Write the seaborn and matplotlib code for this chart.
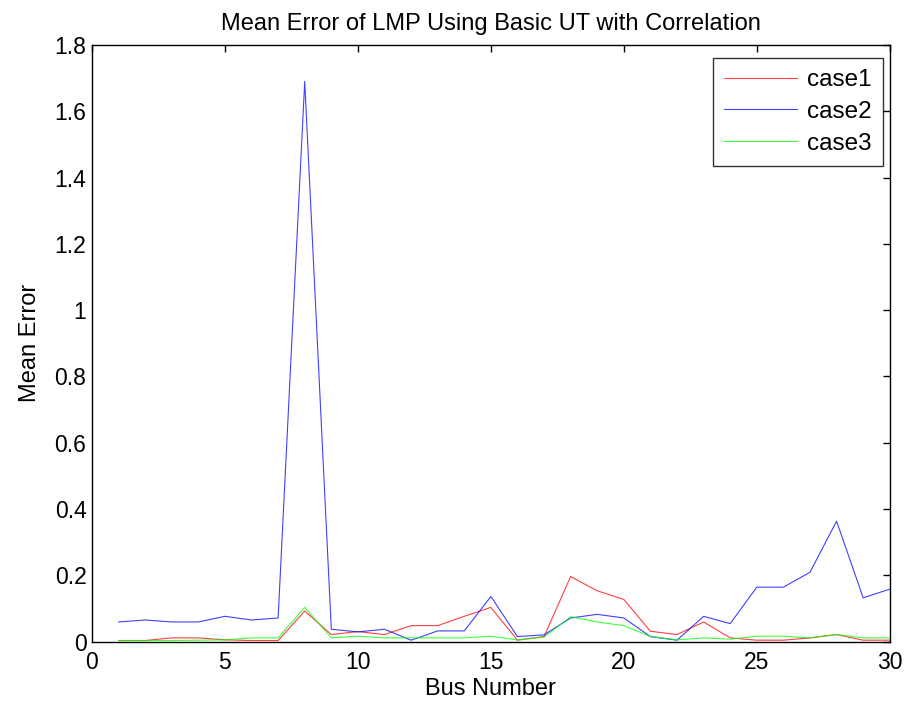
import numpy as np
import pandas as pd
import matplotlib
matplotlib.use("Agg")
import matplotlib.pyplot as plt
import seaborn as sns

# mean error per bus
bus = list(range(1, 31))
case1 = [0.003, 0.003, 0.011, 0.011, 0.005, 0.003, 0.003, 0.092, 0.021, 0.030,
         0.021, 0.048, 0.048, 0.076, 0.103, 0.004, 0.015, 0.196, 0.153, 0.127,
         0.031, 0.021, 0.059, 0.011, 0.004, 0.004, 0.011, 0.021, 0.004, 0.004]
case2 = [0.059, 0.065, 0.059, 0.059, 0.076, 0.065, 0.071, 1.690, 0.037, 0.029,
         0.037, 0.004, 0.032, 0.032, 0.136, 0.015, 0.020, 0.071, 0.082, 0.071,
         0.015, 0.004, 0.076, 0.054, 0.164, 0.164, 0.209, 0.363, 0.132, 0.158]
case3 = [0.003, 0.003, 0.003, 0.004, 0.005, 0.011, 0.011, 0.103, 0.011, 0.016,
         0.011, 0.011, 0.011, 0.011, 0.016, 0.005, 0.013, 0.075, 0.059, 0.048,
         0.015, 0.005, 0.011, 0.007, 0.016, 0.016, 0.011, 0.021, 0.011, 0.011]

df = pd.DataFrame({'Bus': bus, 'case1': case1, 'case2': case2, 'case3': case3})
df_long = df.melt(id_vars='Bus', var_name='Case', value_name='Mean Error')

sns.set_style("white")
plt.rcParams['font.family'] = ['Liberation Sans', 'DejaVu Sans']
plt.rcParams['text.color'] = 'black'
plt.rcParams['axes.labelcolor'] = 'black'
plt.rcParams['xtick.color'] = 'black'
plt.rcParams['ytick.color'] = 'black'

fig = plt.figure(figsize=(9.07, 7.08), dpi=100)
ax = fig.add_axes([0.1014, 0.0939, 0.8796, 0.8425])

sns.lineplot(data=df_long, x='Bus', y='Mean Error', hue='Case',
             palette={'case1': '#ff0000', 'case2': '#0000ff', 'case3': '#00ff00'},
             linewidth=0.8, alpha=0.75, ax=ax)

ax.set_xlim(0, 30)
ax.set_ylim(0, 1.8)
ax.set_xticks(np.arange(0, 31, 5))
ax.set_yticks(np.round(np.arange(0, 1.81, 0.2), 1))
ax.set_yticklabels(['0', '0.2', '0.4', '0.6', '0.8', '1', '1.2', '1.4', '1.6', '1.8'])
ax.tick_params(direction='in', length=5, width=1, labelsize=16.5,
               top=True, right=True, color='black')
ax.tick_params(axis='x', pad=7)
ax.tick_params(axis='y', pad=4)
for s in ax.spines.values():
    s.set_color('black')
    s.set_linewidth(1)

ax.set_title('Mean Error of LMP Using Basic UT with Correlation', fontsize=17, pad=11)
ax.set_xlabel('Bus Number', fontsize=17, labelpad=3)
ax.set_ylabel('Mean Error', fontsize=17, labelpad=10)

leg = ax.legend(loc='upper right', bbox_to_anchor=(0.991, 0.978), borderaxespad=0,
                fontsize=17.5, frameon=True, fancybox=False, edgecolor='black',
                handlelength=3.0, labelspacing=0.4, borderpad=0.45, handletextpad=0.4)
leg.get_frame().set_linewidth(1)
leg.set_title(None)

fig.savefig('out.png', dpi=100)
